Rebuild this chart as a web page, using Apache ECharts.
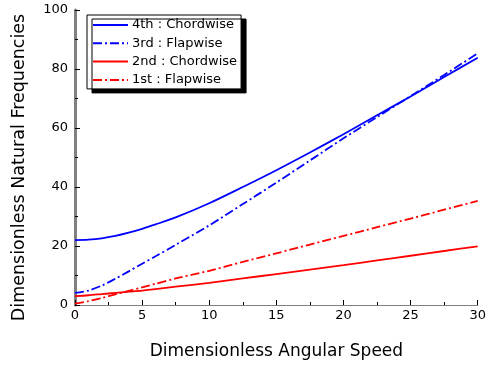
<!DOCTYPE html>
<html><head><meta charset="utf-8">
<script src="https://cdn.jsdelivr.net/npm/echarts@6/dist/echarts.min.js"></script>
<style>html,body{margin:0;padding:0;background:#fff}#c{width:489px;height:365px}</style>
</head><body><div id="c"></div>
<script>
const speeds = [0, 1, 2, 3, 4, 5, 6, 7.5, 10, 12.5, 15, 17.5, 20, 22.5, 25, 27.5, 30];
const chord4 = [22.0, 22.15, 22.6, 23.4, 24.5, 25.8, 27.3, 29.7, 34.5, 40.0, 45.7, 51.7, 57.9, 64.3, 70.7, 77.3, 83.8];
const flap3 = [4.1, 4.9, 6.6, 8.9, 11.4, 14.0, 16.5, 20.4, 27.0, 34.2, 41.5, 49.0, 56.5, 63.7, 70.8, 78.0, 85.3];
const chord2 = [3.0, 3.3, 3.7, 4.1, 4.5, 4.9, 5.4, 6.2, 7.5, 9.0, 10.5, 12.0, 13.5, 15.1, 16.7, 18.3, 19.9];
const flap1 = [0.5, 1.3, 2.4, 3.6, 4.8, 6.0, 7.2, 9.0, 11.6, 14.6, 17.5, 20.5, 23.4, 26.4, 29.3, 32.3, 35.3];
const names = ['4th : Chordwise', '3rd : Flapwise', '2nd : Chordwise', '1st : Flapwise'];
const xTicks = [0, 5, 10, 15, 20, 25, 30];
const yTicks = [0, 20, 40, 60, 80, 100];

const FONT = 'DejaVu Sans';
const pair = arr => speeds.map((s, i) => [s, arr[i]]);
const dashDot = [9, 3, 2, 3];
function mk(name, arr, color, dash) {
  return {
    name, type: 'line', data: pair(arr), smooth: 0.3, symbol: 'none',
    lineStyle: { color, width: 1.8, type: dash ? dashDot : 'solid' },
    itemStyle: { color }
  };
}
const chart = echarts.init(document.getElementById('c'));
chart.setOption({
  animation: false,
  grid: { left: 75, right: 8, top: 10, bottom: 56 },
  legend: {
    orient: 'vertical', left: 87, top: 15,
    data: names,
    backgroundColor: '#fff', borderColor: '#000', borderWidth: 1,
    shadowColor: '#000', shadowBlur: 0, shadowOffsetX: 5, shadowOffsetY: 4,
    padding: [3, 4, 2, 5], itemWidth: 35, itemHeight: 14, itemGap: 4.3,
    itemStyle: { color: 'rgba(0,0,0,0)', borderWidth: 0, opacity: 0 },
    textStyle: { fontFamily: FONT, fontSize: 13, color: '#000', lineHeight: 14, padding: [0, 0, 0, -1] }
  },
  xAxis: [{
    type: 'value', min: 0, max: 30, interval: 5,
    name: 'Dimensionless Angular Speed', nameLocation: 'middle', nameGap: 38,
    nameTextStyle: { fontFamily: FONT, fontSize: 17, color: '#000' },
    axisLine: { lineStyle: { color: '#000', width: 1 } },
    axisTick: { inside: true, length: 5, lineStyle: { color: '#000' } },
    minorTick: { show: true, splitNumber: 2, length: 3, lineStyle: { color: '#000' } },
    splitLine: { show: false },
    axisLabel: { fontFamily: FONT, fontSize: 13, color: '#000', margin: 4,
      formatter: v => xTicks.includes(v) ? String(v) : '' }
  }, {
    type: 'value', min: 0, max: 30, position: 'top',
    axisLine: { show: true, lineStyle: { color: '#808080', width: 1 } },
    axisTick: { show: false }, axisLabel: { show: false }, splitLine: { show: false }
  }],
  yAxis: [{
    type: 'value', min: 0, max: 100, interval: 20,
    name: 'Dimensionless Natural Frequencies', nameLocation: 'middle', nameGap: 47,
    nameTextStyle: { fontFamily: FONT, fontSize: 17.5, color: '#000', padding: [0, 20, 0, 0] },
    axisLine: { show: true, lineStyle: { color: '#000', width: 1 } },
    axisTick: { show: true, inside: true, length: 5, lineStyle: { color: '#000' } },
    minorTick: { show: true, splitNumber: 2, length: 3, lineStyle: { color: '#000' } },
    splitLine: { show: false },
    axisLabel: { fontFamily: FONT, fontSize: 13, color: '#000', margin: 7,
      formatter: v => yTicks.includes(v) ? String(v) : '' }
  }, {
    type: 'value', min: 0, max: 100, position: 'right',
    axisLine: { show: true, lineStyle: { color: '#808080', width: 3 } },
    axisTick: { show: false }, axisLabel: { show: false }, splitLine: { show: false }
  }],
  series: [
    mk(names[0], chord4, '#0000ff', false),
    mk(names[1], flap3, '#0000ff', true),
    mk(names[2], chord2, '#ff0000', false),
    mk(names[3], flap1, '#ff0000', true)
  ]
});
</script>
</body></html>
